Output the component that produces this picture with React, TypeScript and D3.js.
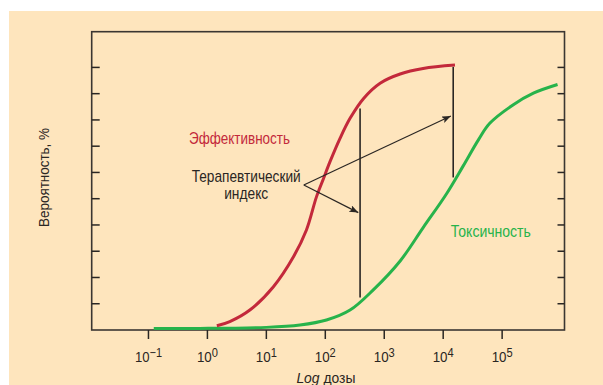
import React, { useRef, useEffect } from "react";
import { select, scaleLinear, line, curveCatmullRom } from "d3";

// log10(dose) and probability in %
const efficacyLogDose = [0.16, 0.38, 0.72, 1.12, 1.46, 1.68, 1.85, 1.97, 2.08, 2.25, 2.42, 2.65, 2.93, 3.27, 3.66, 4.2];
const efficacyPct = [1.6, 3.2, 7.6, 16.5, 27.9, 38.1, 50.7, 57.7, 64.1, 73.0, 80.6, 88.2, 94.0, 97.5, 99.6, 100.9];

const toxicityLogDose = [-0.91, -0.13, 1.0, 1.57, 2.02, 2.42, 2.81, 3.27, 3.66, 4.06, 4.34, 4.6, 4.79, 5.19, 5.53, 5.94];
const toxicityPct = [0.6, 0.6, 1.0, 1.9, 3.8, 7.6, 15.2, 26.3, 39.0, 52.0, 62.5, 72.5, 78.7, 85.8, 90.2, 93.5];

// therapeutic index brackets
const indexLogDose = [2.59, 4.17];
const indexTopPct = [84.4, 100.2];
const indexBottomPct = [12.4, 58.1];

// arrows from the label to the brackets
const arrowFrom = [1.635, 55.2];
const arrowTips = [
  [4.13, 81.5],
  [2.56, 44.7],
];

const decades = [-1, 0, 1, 2, 3, 4, 5];
const pctTicks = [10, 20, 30, 40, 50, 60, 70, 80, 90, 100];

const WIDTH = 603;
const HEIGHT = 385;
const margin = { top: 31.7, right: 38.5, bottom: 55, left: 91.7 };

const RED = "#C3293B";
const GREEN = "#27B34B";
const INK = "#2a2623";
const FONT = "'Liberation Sans', Arial, sans-serif";

const App = () => {
  const svgRef = useRef(null);

  useEffect(() => {
    const svg = select(svgRef.current);
    svg.selectAll("*").remove();

    const x = scaleLinear()
      .domain([-1.963, 6.058])
      .range([margin.left, WIDTH - margin.right]);
    const y = scaleLinear()
      .domain([0, 113.6])
      .range([HEIGHT - margin.bottom, margin.top]);

    // page background
    svg.append("rect").attr("width", WIDTH).attr("height", HEIGHT).attr("fill", "#fff");
    svg
      .append("rect")
      .attr("x", 9)
      .attr("y", 11)
      .attr("width", WIDTH - 9)
      .attr("height", HEIGHT - 11)
      .attr("fill", "#FEE5BD");

    const defs = svg.append("defs");
    defs
      .append("marker")
      .attr("id", "head")
      .attr("markerUnits", "userSpaceOnUse")
      .attr("markerWidth", 10)
      .attr("markerHeight", 8)
      .attr("refX", 9)
      .attr("refY", 3.5)
      .attr("orient", "auto")
      .append("path")
      .attr("d", "M0,0 L9,3.5 L0,7 L2,3.5 z")
      .attr("fill", INK);

    // frame
    svg
      .append("rect")
      .attr("x", x.range()[0])
      .attr("y", y.range()[1])
      .attr("width", x.range()[1] - x.range()[0])
      .attr("height", y.range()[0] - y.range()[1])
      .attr("fill", "none")
      .attr("stroke", "#3b3632")
      .attr("stroke-width", 1.6);

    // y ticks, inside on both sides
    svg
      .selectAll(".ytick-l")
      .data(pctTicks)
      .join("line")
      .attr("class", "ytick-l")
      .attr("x1", x.range()[0])
      .attr("x2", x.range()[0] + 8)
      .attr("y1", (d) => y(d))
      .attr("y2", (d) => y(d))
      .attr("stroke", INK)
      .attr("stroke-width", 1.5);
    svg
      .selectAll(".ytick-r")
      .data(pctTicks)
      .join("line")
      .attr("class", "ytick-r")
      .attr("x1", x.range()[1] - 7)
      .attr("x2", x.range()[1])
      .attr("y1", (d) => y(d))
      .attr("y2", (d) => y(d))
      .attr("stroke", INK)
      .attr("stroke-width", 1.5);

    // x ticks below the axis
    svg
      .selectAll(".xtick")
      .data(decades)
      .join("line")
      .attr("class", "xtick")
      .attr("x1", (d) => x(d))
      .attr("x2", (d) => x(d))
      .attr("y1", y.range()[0])
      .attr("y2", y.range()[0] + 9)
      .attr("stroke", INK)
      .attr("stroke-width", 1.5);

    const labels = svg
      .selectAll(".xlabel")
      .data(decades)
      .join("text")
      .attr("class", "xlabel")
      .attr("x", (d) => x(d))
      .attr("y", 362)
      .attr("text-anchor", "middle")
      .attr("font-family", FONT)
      .attr("fill", INK)
      .attr("textLength", (d) => (d < 0 ? 27 : 21))
      .attr("lengthAdjust", "spacingAndGlyphs");
    labels.append("tspan").attr("font-size", 15).text("10");
    labels
      .append("tspan")
      .attr("font-size", 12.5)
      .attr("dy", -5)
      .text((d) => (d < 0 ? "\u2212" + -d : String(d)));

    // curves
    const curve = line().curve(curveCatmullRom.alpha(0.5));
    const pts = (xs, ys) => xs.map((v, i) => [x(v), y(ys[i])]);

    svg
      .append("path")
      .attr("d", curve(pts(toxicityLogDose, toxicityPct)))
      .attr("fill", "none")
      .attr("stroke", GREEN)
      .attr("stroke-width", 3);
    svg
      .append("path")
      .attr("d", curve(pts(efficacyLogDose, efficacyPct)))
      .attr("fill", "none")
      .attr("stroke", RED)
      .attr("stroke-width", 3);

    // index brackets
    svg
      .selectAll(".bracket")
      .data(indexLogDose)
      .join("line")
      .attr("class", "bracket")
      .attr("x1", (d) => x(d))
      .attr("x2", (d) => x(d))
      .attr("y1", (d, i) => y(indexTopPct[i]))
      .attr("y2", (d, i) => y(indexBottomPct[i]))
      .attr("stroke", INK)
      .attr("stroke-width", 1.6);

    svg
      .selectAll(".arrow")
      .data(arrowTips)
      .join("line")
      .attr("class", "arrow")
      .attr("x1", x(arrowFrom[0]))
      .attr("y1", y(arrowFrom[1]))
      .attr("x2", (d) => x(d[0]))
      .attr("y2", (d) => y(d[1]))
      .attr("stroke", INK)
      .attr("stroke-width", 1.2)
      .attr("marker-end", "url(#head)");

    // annotations
    const note = (txt, lx, py, len, color, anchor = "start") =>
      svg
        .append("text")
        .attr("x", x(lx))
        .attr("y", y(py))
        .attr("text-anchor", anchor)
        .attr("font-family", FONT)
        .attr("font-size", 17)
        .attr("fill", color)
        .attr("textLength", len)
        .attr("lengthAdjust", "spacingAndGlyphs")
        .text(txt);

    note("Эффективность", -0.313, 70.8, 101, RED);
    note("Терапевтический", 0.658, 56.5, 109, INK, "middle");
    note("индекс", 0.658, 50.0, 44, INK, "middle");
    note("Токсичность", 4.13, 35.3, 80, GREEN);

    // axis titles
    svg
      .append("text")
      .attr("transform", "translate(48.5,177.5) rotate(-90)")
      .attr("text-anchor", "middle")
      .attr("font-family", FONT)
      .attr("font-size", 15.5)
      .attr("fill", INK)
      .attr("textLength", 99)
      .attr("lengthAdjust", "spacingAndGlyphs")
      .text("Вероятность, %");

    const xt = svg
      .append("text")
      .attr("x", x(2.01))
      .attr("y", 383)
      .attr("text-anchor", "middle")
      .attr("font-family", FONT)
      .attr("font-size", 15.5)
      .attr("fill", INK)
      .attr("textLength", 59)
      .attr("lengthAdjust", "spacingAndGlyphs");
    xt.append("tspan").attr("font-style", "italic").text("Log");
    xt.append("tspan").text(" дозы");
  }, []);

  return (
    <svg
      ref={svgRef}
      width={WIDTH}
      height={HEIGHT}
      style={{ position: "absolute", left: 0, top: 0 }}
    />
  );
};

export default App;
